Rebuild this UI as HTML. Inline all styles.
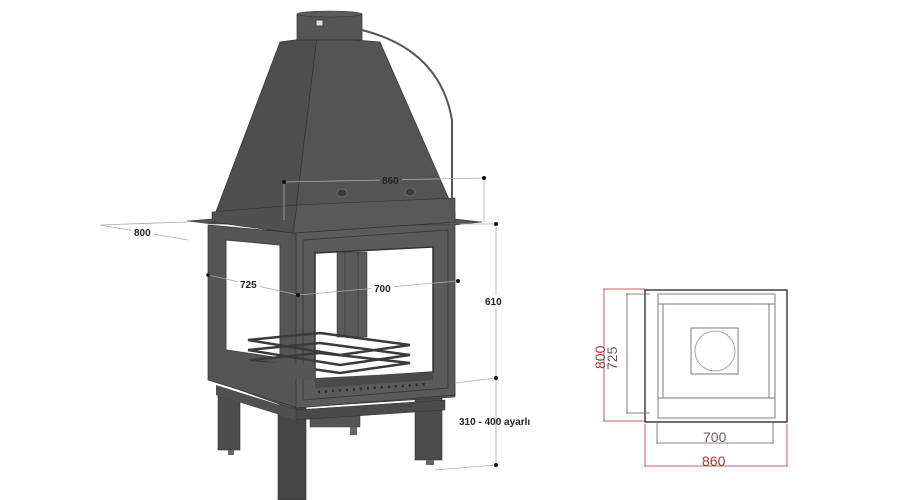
<!DOCTYPE html>
<html><head><meta charset="utf-8"><style>
html,body{margin:0;padding:0;background:#fff;}
svg{display:block}
text{font-family:"Liberation Sans",sans-serif;}
</style></head><body>
<svg width="899" height="500" viewBox="0 0 899 500" xmlns="http://www.w3.org/2000/svg">
<rect width="899" height="500" fill="#fff"/>
<!-- legs -->
<rect x="218" y="395" width="22" height="55" fill="#4c4c4c" stroke="#333" stroke-width="0.6"/>
<rect x="228" y="450" width="6" height="5" fill="#666"/>
<rect x="415" y="395" width="27" height="65" fill="#4c4c4c" stroke="#333" stroke-width="0.6"/>
<rect x="426" y="460" width="8" height="5" fill="#666"/>
<rect x="278" y="405" width="28" height="95" fill="#474747" stroke="#333" stroke-width="0.6"/>
<rect x="310" y="412" width="50" height="15" fill="#555" stroke="#333" stroke-width="0.5"/>
<rect x="350" y="427" width="7" height="8" fill="#666"/>
<!-- base -->
<polygon points="212,380 290,408 455,397 455,385 292,395" fill="#555" stroke="#333" stroke-width="0.6"/>
<polygon points="216,385 296,410 296,420 216,395" fill="#505050"/>
<polygon points="296,410 445,400 445,410 296,420" fill="#4a4a4a" stroke="#333" stroke-width="0.5"/>
<!-- left body panel -->
<polygon points="208,225 298,233 298,408 208,380" fill="#555" stroke="#333" stroke-width="0.7"/>
<polygon points="226,240 280,245 280,358 226,350" fill="#fff" stroke="#444" stroke-width="1"/>
<!-- front body panel -->
<polygon points="296,233 455,222 455,395 296,408" fill="#5a5a5a" stroke="#333" stroke-width="0.7"/>
<polygon points="303,240 448,230 448,388 303,400" fill="none" stroke="#3a3a3a" stroke-width="1"/>
<polygon points="315,253 433,247 433,372 315,380" fill="#fff" stroke="#333" stroke-width="1.5"/>
<!-- inner back pillar -->
<rect x="337" y="252" width="30" height="85" fill="#5a5a5a" stroke="#333" stroke-width="0.5"/>
<line x1="345" y1="252" x2="345" y2="337" stroke="#333" stroke-width="0.6"/>
<line x1="358" y1="252" x2="358" y2="337" stroke="#333" stroke-width="0.6"/>
<!-- grate -->
<g fill="none" stroke="#3a3a3a" stroke-width="2.5">
<polygon points="248,340 320,333 410,345 340,355"/>
<polygon points="248,350 320,343 410,355 340,365"/>
<polygon points="250,360 320,353 410,363 340,373"/>
</g>
<polygon points="230,360 315,365 315,380 240,375" fill="#555"/>
<polygon points="315,378 433,372 433,380 315,388" fill="#4a4a4a"/>
<line x1="318" y1="392" x2="428" y2="384" stroke="#2a2a2a" stroke-width="2.5" stroke-dasharray="2,5"/>
<!-- shelf -->
<polygon points="187,221 212,219 455,219 482,222 455,225 212,224" fill="#555" stroke="#333" stroke-width="0.5"/>
<!-- hood -->
<polygon points="280,42 317,37 293,233 212,222" fill="#4e4e4e" stroke="#333" stroke-width="0.7"/>
<polygon points="317,37 380,42 455,213 455,222 293,233" fill="#545454" stroke="#333" stroke-width="0.7"/>
<polygon points="297,205 455,198 455,222 293,233" fill="#585858" stroke="#333" stroke-width="0.6"/>
<polygon points="212,212 297,205 293,233 212,222" fill="#505050" stroke="#333" stroke-width="0.6"/>
<ellipse cx="342" cy="193" rx="5" ry="4" fill="#3c3c3c" stroke="#777" stroke-width="0.8"/>
<ellipse cx="410" cy="192" rx="5" ry="4" fill="#3c3c3c" stroke="#777" stroke-width="0.8"/>
<!-- chimney -->
<rect x="297" y="14" width="65" height="26" fill="#555" stroke="#333" stroke-width="0.7"/>
<ellipse cx="329.5" cy="14" rx="32.5" ry="3" fill="#5c5c5c" stroke="#333" stroke-width="0.6"/>
<rect x="316" y="20" width="7" height="6" fill="#ddd" stroke="#333" stroke-width="0.8"/>
<!-- rod -->
<path d="M362,30 Q440,50 452,120 L452,230" fill="none" stroke="#555" stroke-width="2"/>
<!-- dimension lines -->
<g stroke="#aaa" stroke-width="0.8" fill="none">
<line x1="284" y1="182" x2="484" y2="178"/>
<line x1="284" y1="182" x2="284" y2="220"/>
<line x1="484" y1="178" x2="484" y2="222"/>
<line x1="460" y1="224" x2="496" y2="224"/>
<line x1="496" y1="224" x2="496" y2="465"/>
<line x1="455" y1="383" x2="496" y2="378"/>
<line x1="435" y1="470" x2="496" y2="465"/>
<polyline points="187,222 100,225 188,240"/>
<line x1="208" y1="275" x2="298" y2="295"/>
<line x1="298" y1="295" x2="458" y2="281"/>
</g>
<g fill="#111">
<circle cx="284" cy="182" r="2"/><circle cx="484" cy="178" r="2"/>
<circle cx="496" cy="224" r="2"/><circle cx="496" cy="378" r="2"/><circle cx="496" cy="465" r="2"/>
<circle cx="208" cy="275" r="1.8"/><circle cx="298" cy="295" r="2"/><circle cx="458" cy="281" r="2"/>
</g>
<g font-size="10" font-weight="bold" fill="#222">
<rect x="380" y="174" width="22" height="11" fill="#555"/>
<text x="382" y="184">860</text>
<rect x="132" y="225" width="22" height="13" fill="#fff"/>
<text x="134" y="236">800</text>
<rect x="238" y="278" width="22" height="12" fill="#fff"/>
<text x="240" y="288">725</text>
<rect x="372" y="283" width="22" height="12" fill="#fff"/>
<text x="374" y="292">700</text>
<rect x="482" y="295" width="24" height="13" fill="#fff"/>
<text x="485" y="305">610</text>
<text x="459" y="425">310 - 400 ayarlı</text>
</g>
<!-- right plan view -->
<g fill="none">
<rect x="645" y="290" width="142" height="132" stroke="#111" stroke-width="1.2"/>
<rect x="658" y="294" width="117" height="124" stroke="#8a7a78" stroke-width="1"/>
<rect x="658" y="304" width="117" height="94" stroke="#8a7a78" stroke-width="1"/>
<line x1="663" y1="304" x2="663" y2="398" stroke="#8a7a78"/>
<line x1="769" y1="304" x2="769" y2="398" stroke="#8a7a78"/>
<rect x="691" y="328" width="47" height="46" stroke="#8a7a78" stroke-width="1"/>
<circle cx="715" cy="351" r="20" stroke="#b0a5a3" stroke-width="1"/>
<g stroke="#b03030" stroke-width="0.8">
<line x1="603" y1="289" x2="645" y2="289"/><line x1="603" y1="421" x2="645" y2="421"/>
<line x1="604" y1="289" x2="604" y2="421"/>
<line x1="645" y1="424" x2="645" y2="467"/><line x1="787" y1="424" x2="787" y2="467"/>
<line x1="645" y1="466" x2="787" y2="466"/>
</g>
<g stroke="#6a5a58" stroke-width="0.8">
<line x1="626" y1="294" x2="650" y2="294"/><line x1="626" y1="413" x2="650" y2="413"/>
<line x1="627" y1="294" x2="627" y2="413"/>
<line x1="657" y1="422" x2="657" y2="444"/><line x1="773" y1="422" x2="773" y2="444"/>
<line x1="657" y1="443" x2="773" y2="443"/>
</g>
</g>
<g font-size="14">
<text x="703" y="442" fill="#6a5a58">700</text>
<text x="702" y="466" fill="#b03030">860</text>
<text transform="translate(617,370) rotate(-90)" fill="#6a5a58">725</text>
<text transform="translate(605,369) rotate(-90)" fill="#b03030">800</text>
</g>
</svg>
</body></html>
